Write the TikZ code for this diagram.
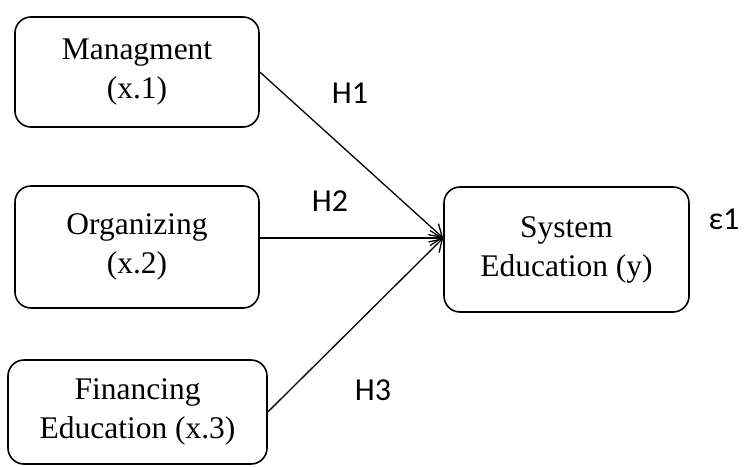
\documentclass[tikz,border=0pt]{standalone}
\usepackage{fontspec}
\setmainfont{Liberation Serif}
\newfontfamily\hypfont{Carlito}
\usetikzlibrary{arrows.meta,positioning,calc}

\begin{document}
\begin{tikzpicture}[x=1pt, y=-1pt,
    varbox/.style={draw, line width=1.6pt, rounded corners=16pt, align=center,
        font=\fontsize{31.5}{39}\selectfont, inner sep=0pt},
    hyp/.style={font=\hypfont\fontsize{32}{36}\selectfont, inner sep=0pt},
    path/.style={line width=1.3pt, -{Straight Barb[length=12pt, width=15pt, line width=1.3pt]}}]

    \useasboundingbox (0,0) rectangle (749,466);

    \node[varbox, minimum width=244pt, minimum height=110pt] (Manag) at (137,72)
        {Managment\\(x.1)};
    \node[varbox, minimum width=244pt, minimum height=122pt] (Organ) at (137,247)
        {Organizing\\(x.2)};
    \node[varbox, minimum width=259pt, minimum height=104pt] (Finan) at (137.5,412)
        {Financing\\Education (x.3)};
    \node[varbox, minimum width=245pt, minimum height=125pt] (SysEdu) at (566.5,249.5)
        {System\\Education (y)};

    \coordinate (tip) at (SysEdu.west |- 0,238);

    \foreach \from in {Manag.east, Organ.east |- tip, Finan.east}
    \draw [path] (\from) -- (tip);

    \node[hyp] (H1) at (350,93) {H1};
    \node[hyp] (H2) at (330,201) {H2};
    \node[hyp] (H3) at (373,390) {H3};
    \node[hyp] (Eps) at (724,219) {ε1};

\end{tikzpicture}
\end{document}
